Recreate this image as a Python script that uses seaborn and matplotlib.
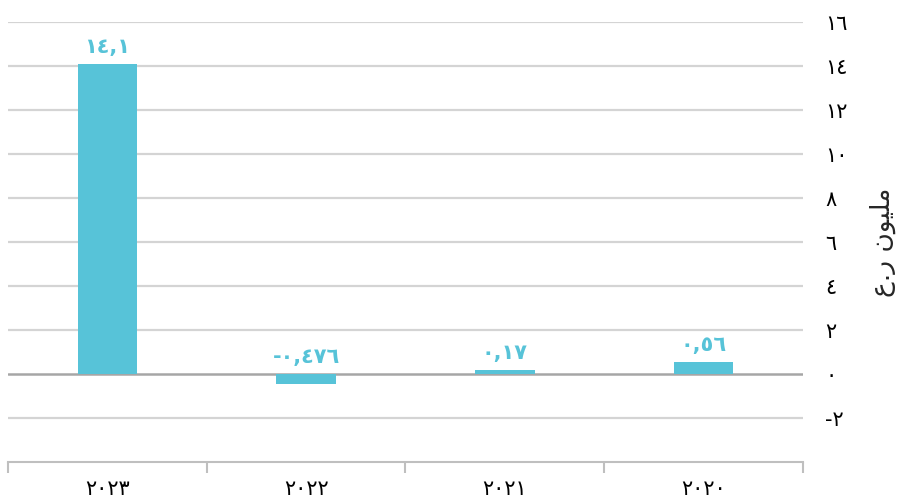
import numpy as np
import pandas as pd
import matplotlib
matplotlib.use("Agg")
import matplotlib.pyplot as plt
import seaborn as sns

# dati
anni = ["2020", "2021", "2022", "2023"]
valori = [0.56, 0.17, -0.476, 14.1]
etichette = ["0,56", "0,17", "-0,476", "14,1"]
y_ticks = [-2, 0, 2, 4, 6, 8, 10, 12, 14, 16]

# cifre arabo-indiche
cifre = str.maketrans("0123456789", "٠١٢٣٤٥٦٧٨٩")

def ar(s):
    return str(s).translate(cifre)

# "مليون ر.ع" in forme di presentazione, ordine visuale
titolo_y = "\uFEC9.\uFEAD \uFEE5\uFEEE\uFEF4\uFEE0\uFEE3"

colore = "#57C3D8"

sns.set_theme(style="white")
plt.rcParams["font.family"] = ["DejaVu Sans"]

df = pd.DataFrame({"anno": anni, "valore": valori})

fig = plt.figure(figsize=(9.03, 4.97), dpi=100)
ax = fig.add_axes([8 / 903, 35 / 497, 795 / 903, 440 / 497])

# griglia orizzontale, la linea dello zero più scura
for t in y_ticks:
    ax.axhline(t, color="#D4D4D4" if t != 0 else "#A6A6A6",
               lw=1.6 if t != 0 else 1.8, zorder=0)

sns.barplot(data=df, x="anno", y="valore", order=anni, color=colore,
            width=0.3, saturation=1, linewidth=0, ax=ax, zorder=2)

for i, (v, lab) in enumerate(zip(valori, etichette)):
    ax.annotate(ar(lab), (i, max(v, 0)), xytext=(0, 5), textcoords="offset points",
                ha="center", va="bottom", color=colore, fontsize=15,
                fontweight="bold")

ax.set_ylim(-4, 16)
ax.set_xlim(3.5, -0.5)
ax.set_yticks(y_ticks)
ax.set_yticklabels([ar(t) for t in y_ticks], fontsize=15, color="black")
ax.yaxis.tick_right()
ax.yaxis.set_label_position("right")
ax.tick_params(axis="y", length=0, pad=16)

ax.set_xticks(range(len(anni)))
ax.set_xticklabels([ar(a) for a in anni], fontsize=15, color="black")
ax.set_xticks(np.arange(-0.5, len(anni), 1), minor=True)
ax.tick_params(axis="x", which="major", length=0, pad=12)
ax.tick_params(axis="x", which="minor", length=8, width=1.5, color="#BFBFBF",
               direction="out", bottom=True)

ax.set_xlabel("")
ax.set_ylabel(titolo_y, fontsize=19, rotation=90, labelpad=16)

for s in ["top", "left", "right"]:
    ax.spines[s].set_visible(False)
ax.spines["bottom"].set_color("#BFBFBF")
ax.spines["bottom"].set_linewidth(1.5)

fig.savefig("out.png", dpi=100)
